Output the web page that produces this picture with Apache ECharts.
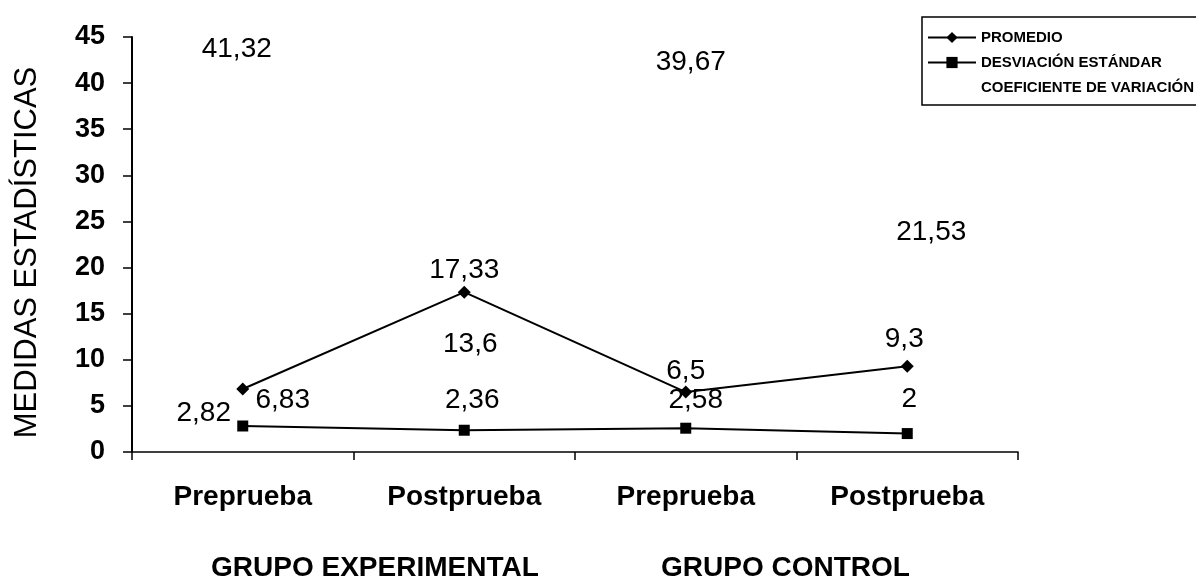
<!DOCTYPE html>
<html>
<head>
<meta charset="utf-8">
<script src="https://cdn.jsdelivr.net/npm/echarts@6/dist/echarts.min.js"></script>
<style>
  html, body { margin: 0; padding: 0; background: #fff; }
  #chart { width: 1196px; height: 580px; }
</style>
</head>
<body>
<div id="chart"></div>
<script>
// datos
const categories = ["Preprueba", "Postprueba", "Preprueba", "Postprueba"];
const groups = ["GRUPO EXPERIMENTAL", "GRUPO CONTROL"];
const promedio = [6.83, 17.33, 6.5, 9.3];
const desviacion = [2.82, 2.36, 2.58, 2];
const coeficiente = [41.32, 13.6, 39.67, 21.53];
const yTicks = { min: 0, max: 45, interval: 5 };

const FONT = '"Liberation Sans", Arial, sans-serif';

// desplazamiento de cada etiqueta respecto al punto
const offProm = [[40, 11], [0, -22], [0, -21], [-3, -27]];
const offDesv = [[-39, -13], [8, -30], [10, -28], [2, -34]];
const offCoef = [[-6, -22], [6, 18], [5, -24], [24, -21]];

function withLabels(values, offsets) {
  return values.map((v, i) => ({
    value: v,
    label: { offset: offsets[i] }
  }));
}

const fmt = p => String(p.value).replace(".", ",");

const baseLabel = {
  show: true,
  position: "inside",
  formatter: fmt,
  color: "#000",
  fontFamily: FONT,
  fontSize: 28
};

const chart = echarts.init(document.getElementById("chart"));

const option = {
  animation: false,
  backgroundColor: "#fff",
  grid: { left: 132, right: 178, top: 37, bottom: 128 },
  legend: {
    orient: "vertical",
    left: 922,
    top: 17,
    padding: [13, 40, 10, 5],
    itemGap: 10,
    itemWidth: 48,
    itemHeight: 14,
    borderColor: "#000",
    borderWidth: 1.5,
    textStyle: { color: "#000", fontFamily: FONT, fontSize: 15, fontWeight: "bold" },
    data: [
      { name: "PROMEDIO" },
      { name: "DESVIACIÓN ESTÁNDAR" },
      { name: "COEFICIENTE DE VARIACIÓN", itemStyle: { opacity: 0 }, lineStyle: { opacity: 0 } }
    ]
  },
  xAxis: {
    type: "category",
    data: categories,
    boundaryGap: true,
    axisLine: { lineStyle: { color: "#000", width: 1.5 } },
    axisTick: { show: true, length: 8, lineStyle: { color: "#000", width: 1.5 } },
    axisLabel: { color: "#000", fontFamily: FONT, fontSize: 28, fontWeight: "bold", margin: 31 }
  },
  yAxis: {
    type: "value",
    min: yTicks.min,
    max: yTicks.max,
    interval: yTicks.interval,
    name: "MEDIDAS ESTADÍSTICAS",
    nameLocation: "middle",
    nameGap: 89,
    nameTextStyle: { color: "#000", fontFamily: FONT, fontSize: 31, padding: [0, 16, 0, 0] },
    splitLine: { show: false },
    axisLine: { show: true, lineStyle: { color: "#000", width: 2 } },
    axisTick: { show: true, length: 9, lineStyle: { color: "#000", width: 1.5 } },
    axisLabel: { color: "#000", fontFamily: FONT, fontSize: 27, fontWeight: "bold", margin: 27 }
  },
  graphic: groups.map((g, i) => ({
    type: "text",
    left: i === 0 ? 211 : 661,
    top: 554,
    style: { text: g, fill: "#000", font: "bold 28px " + FONT }
  })),
  series: [
    {
      name: "PROMEDIO",
      type: "line",
      data: withLabels(promedio, offProm),
      symbol: "diamond",
      symbolSize: 13,
      itemStyle: { color: "#000" },
      lineStyle: { color: "#000", width: 2 },
      label: baseLabel
    },
    {
      name: "DESVIACIÓN ESTÁNDAR",
      type: "line",
      data: withLabels(desviacion, offDesv),
      symbol: "rect",
      symbolSize: 11,
      itemStyle: { color: "#000" },
      lineStyle: { color: "#000", width: 2 },
      label: baseLabel
    },
    {
      name: "COEFICIENTE DE VARIACIÓN",
      type: "line",
      data: withLabels(coeficiente, offCoef),
      symbol: "circle",
      symbolSize: 0.1,
      itemStyle: { color: "#fff" },
      lineStyle: { opacity: 0 },
      label: baseLabel
    }
  ]
};

chart.setOption(option);
</script>
</body>
</html>
